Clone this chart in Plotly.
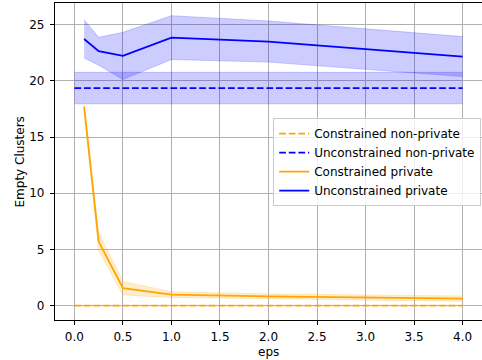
import plotly.graph_objects as go

eps = [0.1, 0.25, 0.5, 1.0, 2.0, 4.0]
eps_np = [0.0, 4.0]

constrained_private = [17.7, 5.7, 1.55, 0.98, 0.83, 0.62]
constrained_private_std = [0.3, 0.85, 0.6, 0.25, 0.22, 0.24]
unconstrained_private = [23.73, 22.64, 22.22, 23.85, 23.5, 22.16]
unconstrained_private_std = [1.7, 1.24, 2.1, 1.95, 1.83, 1.78]
constrained_np = [0.0, 0.0]
constrained_np_std = [0.0, 0.0]
unconstrained_np = [19.36, 19.36]
unconstrained_np_std = [1.4, 1.4]

x_title = "eps"
y_title = "Empty Clusters"

ORANGE = "#FFA500"
BLUE = "#0000FF"
ORANGE_FILL = "rgba(255,165,0,0.2)"
BLUE_FILL = "rgba(0,0,255,0.2)"
LW = 1.8
DASH = "6.7px,2.9px"

fig = go.Figure()

def band(x, m, s, fill):
    up = [a + b for a, b in zip(m, s)]
    lo = [a - b for a, b in zip(m, s)]
    fig.add_trace(go.Scatter(x=x, y=lo, mode="lines", line=dict(width=0.9, color=fill),
                             showlegend=False, hoverinfo="skip"))
    fig.add_trace(go.Scatter(x=x, y=up, mode="lines", line=dict(width=0.9, color=fill),
                             fill="tonexty", fillcolor=fill, showlegend=False, hoverinfo="skip"))

band(eps_np, constrained_np, constrained_np_std, ORANGE_FILL)
fig.add_trace(go.Scatter(x=eps_np, y=constrained_np, mode="lines", name="Constrained non-private",
                         line=dict(color=ORANGE, width=LW, dash=DASH)))
band(eps_np, unconstrained_np, unconstrained_np_std, BLUE_FILL)
fig.add_trace(go.Scatter(x=eps_np, y=unconstrained_np, mode="lines", name="Unconstrained non-private",
                         line=dict(color=BLUE, width=LW, dash=DASH)))
band(eps, constrained_private, constrained_private_std, ORANGE_FILL)
fig.add_trace(go.Scatter(x=eps, y=constrained_private, mode="lines", name="Constrained private",
                         line=dict(color=ORANGE, width=LW)))
band(eps, unconstrained_private, unconstrained_private_std, BLUE_FILL)
fig.add_trace(go.Scatter(x=eps, y=unconstrained_private, mode="lines", name="Unconstrained private",
                         line=dict(color=BLUE, width=LW)))

font = dict(family="DejaVu Sans", size=12, color="black")
axis_common = dict(showgrid=True, gridcolor="#b0b0b0", gridwidth=0.96, zeroline=False,
                   showline=True, linecolor="black", linewidth=0.96, mirror=True,
                   ticks="outside", ticklen=4.2, tickwidth=0.96, tickcolor="black",
                   tickfont=font, automargin=False)

fig.update_layout(
    width=482, height=360,
    margin=dict(l=55, r=0, t=3, b=40, autoexpand=False),
    paper_bgcolor="white", plot_bgcolor="white",
    font=font,
    xaxis=dict(range=[-0.2, 4.2], tickmode="array",
               tickvals=[0, 0.5, 1, 1.5, 2, 2.5, 3, 3.5, 4],
               ticktext=["0.0", "0.5", "1.0", "1.5", "2.0", "2.5", "3.0", "3.5", "4.0"],
               ticklabelstandoff=1, **axis_common),
    yaxis=dict(range=[-1.28, 26.93], tickmode="array", tickvals=[0, 5, 10, 15, 20, 25],
               ticklabelstandoff=3, **axis_common),
    legend=dict(x=0.511, y=0.637, xanchor="left", yanchor="top", traceorder="normal",
                bgcolor="rgba(255,255,255,0.8)", bordercolor="#cccccc", borderwidth=1,
                font=font, itemwidth=30, tracegroupgap=0),
    showlegend=True,
    annotations=[
        dict(text=x_title, xref="paper", yref="paper", x=0.5, y=-0.1,
             xanchor="center", yanchor="middle", showarrow=False, font=font),
        dict(text=y_title, xref="paper", yref="paper", x=-0.082, y=0.5,
             xanchor="center", yanchor="middle", textangle=-90, showarrow=False, font=font),
    ],
)

fig.write_html("out.html", config={"displayModeBar": False},
               post_script="document.body.style.margin='0';document.body.style.overflow='hidden';")
